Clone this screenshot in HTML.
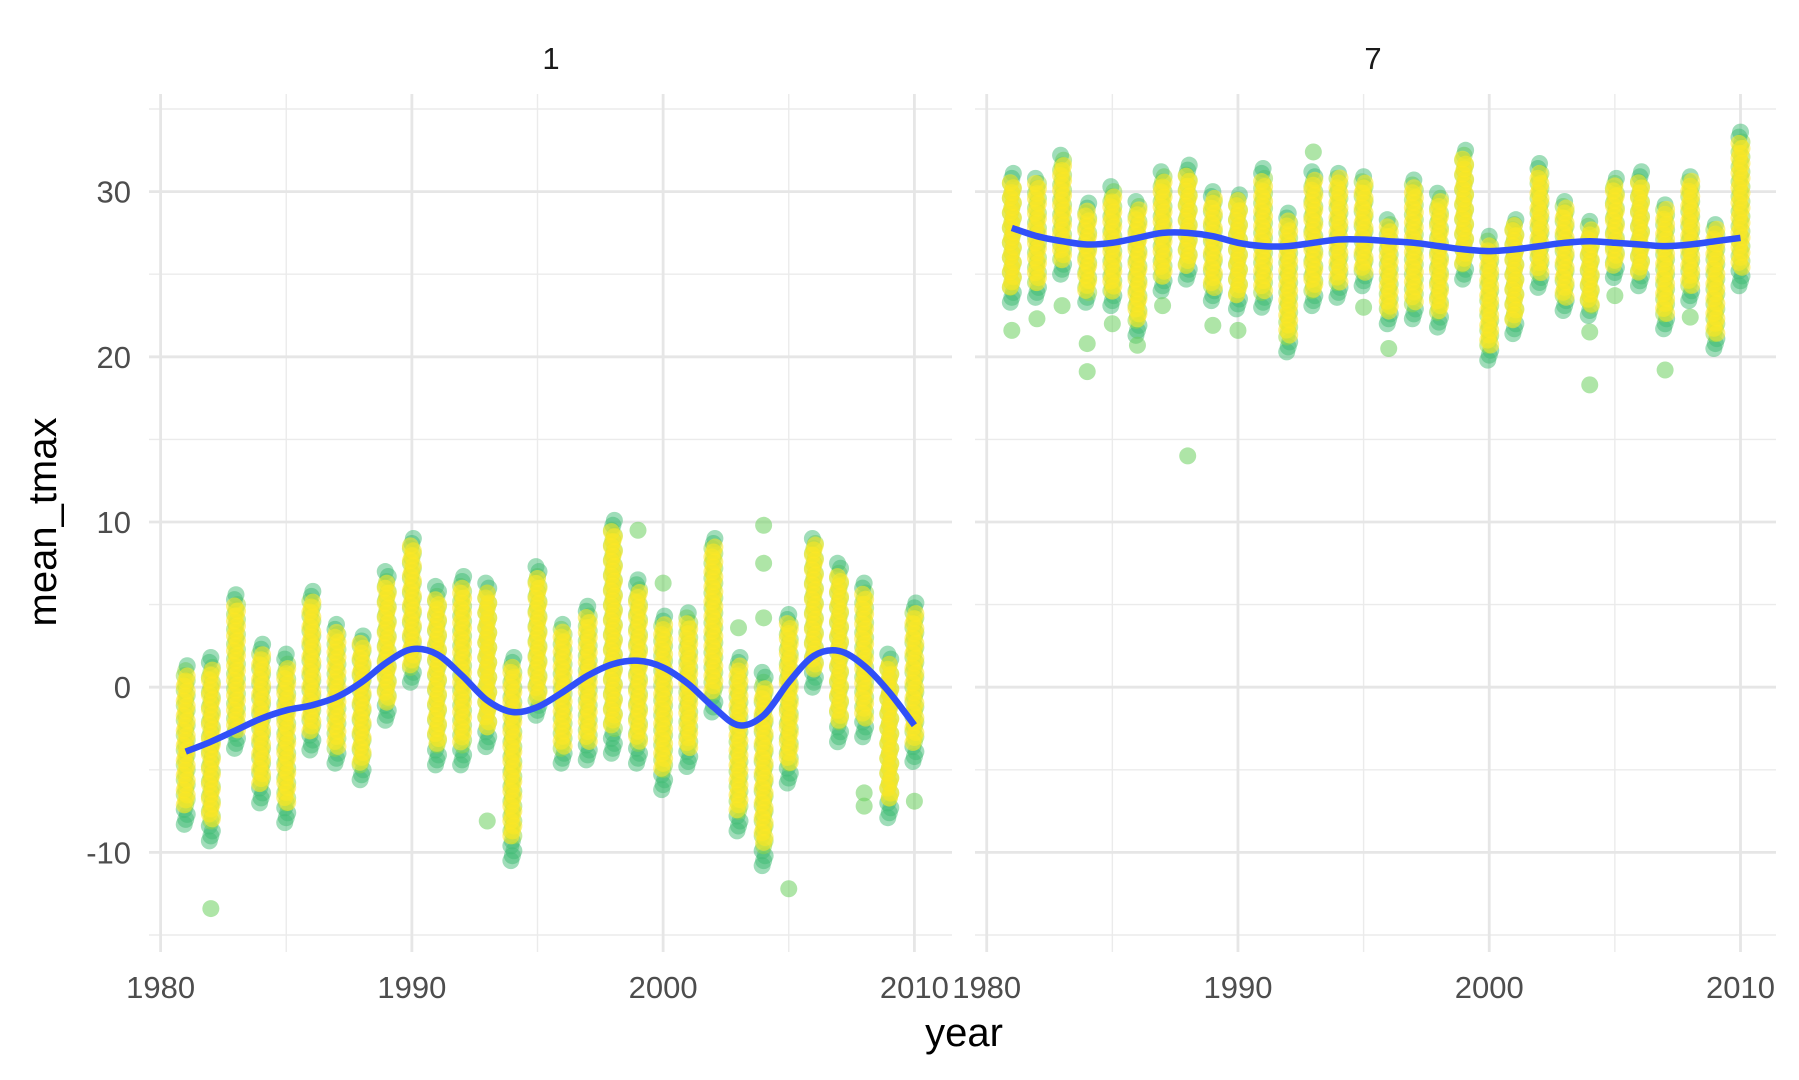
<!DOCTYPE html>
<html><head><meta charset="utf-8"><style>
html,body{margin:0;padding:0;background:#fff;}
svg{display:block;font-family:"Liberation Sans",Arial,sans-serif;}
</style></head><body>
<svg id="chart" width="1799" height="1080" viewBox="0 0 1799 1080" xmlns="http://www.w3.org/2000/svg">
<g id="grid"></g>
<g id="marks"></g>
<g id="labels"></g>
<text x="551" y="69" font-size="31" text-anchor="middle" fill="#1a1a1a">1</text>
<text x="1373" y="69" font-size="31" text-anchor="middle" fill="#1a1a1a">7</text>
<text x="964" y="1046" font-size="40" text-anchor="middle" fill="#000">year</text>
<text transform="translate(56,522) rotate(-90)" font-size="40" text-anchor="middle" fill="#000">mean_tmax</text>
</svg>
<script>
const years = [1981,1982,1983,1984,1985,1986,1987,1988,1989,1990,1991,1992,1993,1994,1995,1996,1997,1998,1999,2000,2001,2002,2003,2004,2005,2006,2007,2008,2009,2010];
const janMax = [1.5,1.8,5.6,2.7,2.0,5.8,3.9,3.2,7.1,9.1,6.1,6.9,6.4,2.0,7.3,4.0,4.9,10.3,6.5,4.5,4.7,9.2,2.0,0.9,4.6,9.2,7.5,6.4,2.0,5.1];
const janMin = [-8.3,-9.3,-3.7,-7.0,-8.2,-3.8,-4.6,-5.6,-2.0,0.3,-4.7,-4.7,-3.6,-10.5,-1.7,-4.6,-4.4,-4.0,-4.6,-6.2,-4.8,-1.5,-8.7,-10.8,-5.8,0.0,-3.3,-3.0,-7.9,-4.5];
const janOutYears = [1982,1993,1999,2000,2003,2004,2004,2004,2005,2008,2008,2010];
const janOutVals = [-13.4,-8.1,9.5,6.3,3.6,9.8,7.5,4.2,-12.2,-6.4,-7.2,-6.9];
const janSmooth = [-3.9,-3.3,-2.6,-1.9,-1.4,-1.1,-0.6,0.3,1.5,2.3,2.0,0.7,-0.8,-1.5,-1.2,-0.3,0.7,1.4,1.6,1.2,0.2,-1.2,-2.3,-1.7,0.3,1.9,2.2,1.3,-0.3,-2.3];
const julMax = [31.1,31.0,32.3,29.3,30.4,29.6,31.3,31.6,30.0,30.0,31.4,28.8,31.3,31.3,31.1,28.4,30.9,30.1,32.7,27.4,28.4,31.7,29.5,28.2,31.0,31.2,29.4,31.1,28.2,33.6];
const julMin = [23.3,23.6,25.0,23.3,23.1,21.3,24.0,24.7,23.4,22.9,23.0,20.3,23.1,23.6,24.3,22.0,22.3,21.8,24.7,19.8,21.4,24.2,22.8,22.5,24.8,24.3,21.7,23.4,20.5,24.3];
const julOutYears = [1981,1982,1983,1984,1984,1985,1986,1987,1988,1989,1990,1993,1995,1996,2004,2004,2005,2007,2008];
const julOutVals = [21.6,22.3,23.1,20.8,19.1,22.0,20.7,23.1,14.0,21.9,21.6,32.4,23.0,20.5,21.5,18.3,23.7,19.2,22.4];
const julSmooth = [27.8,27.3,27.0,26.8,26.9,27.2,27.5,27.5,27.3,26.9,26.7,26.7,26.9,27.1,27.1,27.0,26.9,26.7,26.5,26.4,26.5,26.7,26.9,27.0,26.9,26.8,26.7,26.8,27.0,27.2];
const yTicks = [30,20,10,0,-10];
const yMinor = [35,25,15,5,-5,-15];
const xTicks = [1980,1990,2000,2010];
const xMinor = [1985,1995,2005];

const NS="http://www.w3.org/2000/svg";
const panels=[{x0:149,x1:952,px0:160.6,px1:914.4,name:'jan'},{x0:975,x1:1776,px0:986.7,px1:1740.5,name:'jul'}];
function yScale(v){return 687.2-(v*16.52);}
function xScale(p,yr){return p.px0+(yr-1980)*(p.px1-p.px0)/30;}
function el(tag,attrs,parent){const e=document.createElementNS(NS,tag);for(const k in attrs)e.setAttribute(k,attrs[k]);parent.appendChild(e);return e;}
const grid=document.getElementById('grid'),marks=document.getElementById('marks'),labels=document.getElementById('labels');

panels.forEach((p,pi)=>{
  yMinor.forEach(v=>{const l=el('line',{x1:p.x0,x2:p.x1,y1:yScale(v),y2:yScale(v),stroke:'#ebebeb','stroke-width':1.4},grid);
    
    });
  xMinor.forEach(v=>{const l=el('line',{x1:xScale(p,v),x2:xScale(p,v),y1:94,y2:952,stroke:'#ebebeb','stroke-width':1.4},grid);
    
    });
  yTicks.forEach(v=>{const l=el('line',{x1:p.x0,x2:p.x1,y1:yScale(v),y2:yScale(v),stroke:'#e6e6e6','stroke-width':2.8},grid);
    
    });
  xTicks.forEach(v=>{const l=el('line',{x1:xScale(p,v),x2:xScale(p,v),y1:94,y2:952,stroke:'#e6e6e6','stroke-width':2.8},grid);
    
    
    const t=el('text',{x:xScale(p,v),y:998,'font-size':31,'text-anchor':'middle',fill:'#4d4d4d'},labels);
    t.textContent=v;
    
    });
  if(pi===0){yTicks.forEach(v=>{const t=el('text',{x:131,y:yScale(v)+11,'font-size':31,'text-anchor':'end',fill:'#4d4d4d'},labels);
    t.textContent=v;
    
    });}

  const mx=pi===0?janMax:julMax, mn=pi===0?janMin:julMin, oy=pi===0?janOutYears:julOutYears, ov=pi===0?janOutVals:julOutVals, sm=pi===0?janSmooth:julSmooth;
  const g=el('g',{},marks);
  
  
  years.forEach((yr,i)=>{
    const cx=xScale(p,yr), span=mx[i]-mn[i];
    let k=0;
    for(let v=mn[i];v<=mx[i]+0.01;v+=0.3){
      const f=(v-mn[i])/span;
      const col=(f<0.1||f>0.95)?'#3fbc73':'#8fd744';
      const c=el('circle',{cx:cx+((k++%3)-1)*1.5,cy:yScale(v),r:8.5,fill:col,'fill-opacity':0.5},g);
      
      
    }
    for(let v=mn[i]+span*0.12;v<=mx[i]-span*0.06;v+=0.3){
      const c=el('circle',{cx:cx+((k++%3)-1)*1.5,cy:yScale(v),r:8.5,fill:'#fde725','fill-opacity':0.55},g);
      
      
    }
  });
  oy.forEach((yr,i)=>{
    const c=el('circle',{cx:xScale(p,yr),cy:yScale(ov[i]),r:8.5,fill:'#6ccf5f','fill-opacity':0.55},g);
    
    
  });
  const pts=years.map((yr,i)=>[xScale(p,yr),yScale(sm[i])]);
  let d='M'+pts[0][0].toFixed(1)+','+pts[0][1].toFixed(1);
  for(let i=0;i<pts.length-1;i++){
    const p0=pts[Math.max(0,i-1)],p1=pts[i],p2=pts[i+1],p3=pts[Math.min(pts.length-1,i+2)];
    const c1=[p1[0]+(p2[0]-p0[0])/6,p1[1]+(p2[1]-p0[1])/6];
    const c2=[p2[0]-(p3[0]-p1[0])/6,p2[1]-(p3[1]-p1[1])/6];
    d+='C'+c1[0].toFixed(1)+','+c1[1].toFixed(1)+' '+c2[0].toFixed(1)+','+c2[1].toFixed(1)+' '+p2[0].toFixed(1)+','+p2[1].toFixed(1);
  }
  const path=el('path',{d:d,fill:'none',stroke:'#3050f8','stroke-width':6.5,'stroke-linejoin':'round','stroke-linecap':'butt'},marks);
  
  
});
</script>
</body></html>
